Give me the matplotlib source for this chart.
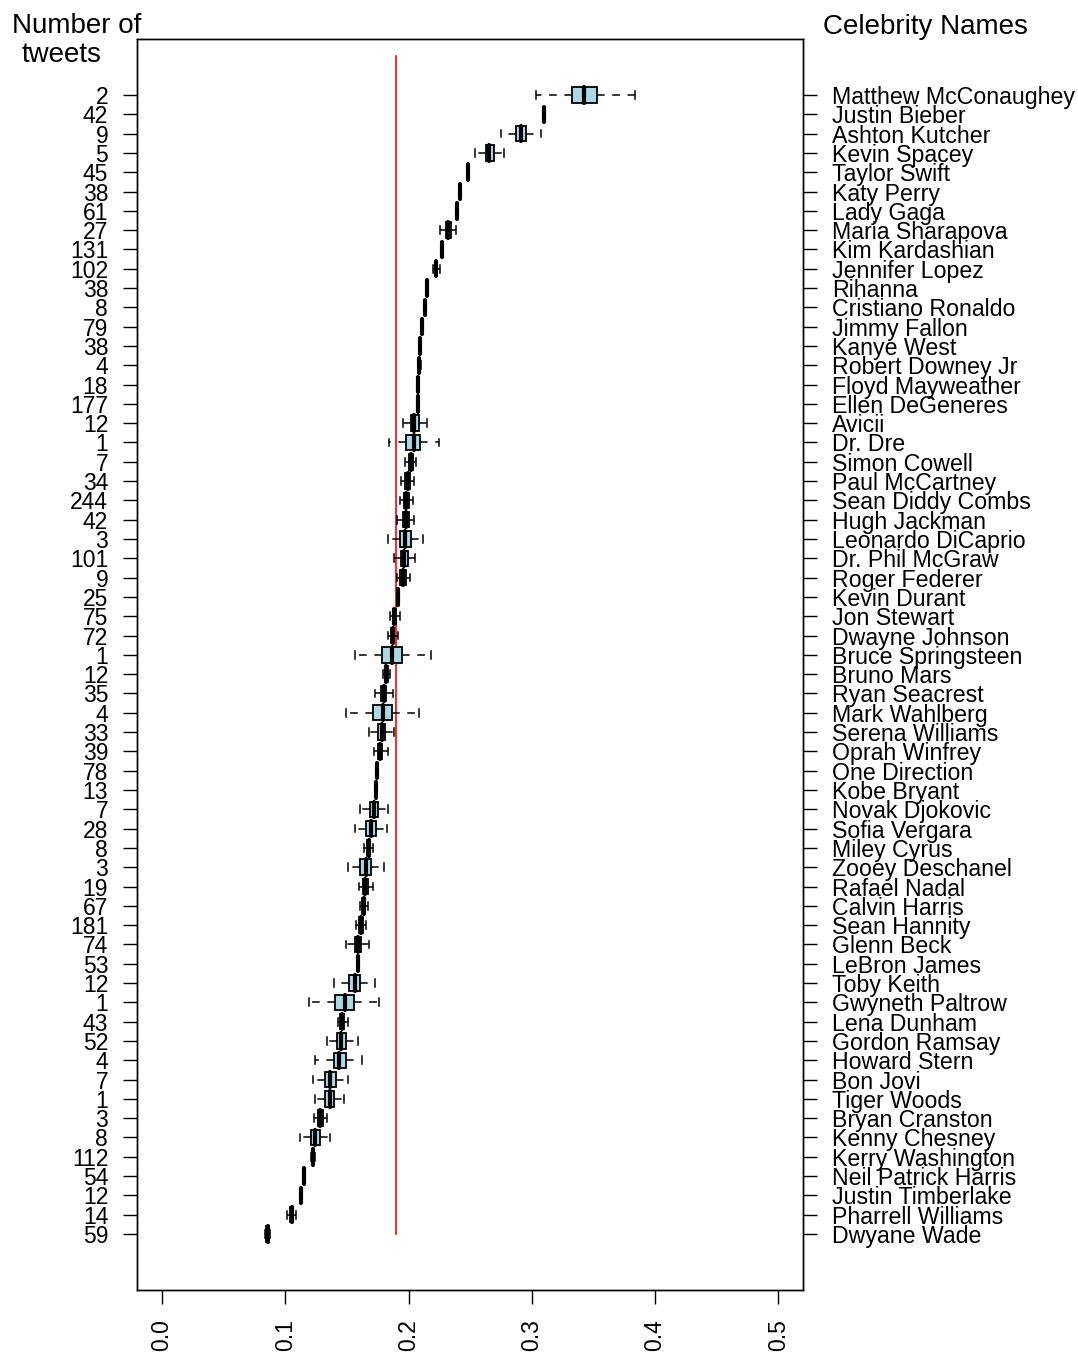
import matplotlib
matplotlib.use("Agg")
import matplotlib.pyplot as plt

plt.rcParams['font.family'] = ['Liberation Sans', 'DejaVu Sans']

names = ["Matthew McConaughey", "Justin Bieber", "Ashton Kutcher", "Kevin Spacey", "Taylor Swift",
         "Katy Perry", "Lady Gaga", "Maria Sharapova", "Kim Kardashian", "Jennifer Lopez",
         "Rihanna", "Cristiano Ronaldo", "Jimmy Fallon", "Kanye West", "Robert Downey Jr",
         "Floyd Mayweather", "Ellen DeGeneres", "Avicii", "Dr. Dre", "Simon Cowell",
         "Paul McCartney", "Sean Diddy Combs", "Hugh Jackman", "Leonardo DiCaprio", "Dr. Phil McGraw",
         "Roger Federer", "Kevin Durant", "Jon Stewart", "Dwayne Johnson", "Bruce Springsteen",
         "Bruno Mars", "Ryan Seacrest", "Mark Wahlberg", "Serena Williams", "Oprah Winfrey",
         "One Direction", "Kobe Bryant", "Novak Djokovic", "Sofia Vergara", "Miley Cyrus",
         "Zooey Deschanel", "Rafael Nadal", "Calvin Harris", "Sean Hannity", "Glenn Beck",
         "LeBron James", "Toby Keith", "Gwyneth Paltrow", "Lena Dunham", "Gordon Ramsay",
         "Howard Stern", "Bon Jovi", "Tiger Woods", "Bryan Cranston", "Kenny Chesney",
         "Kerry Washington", "Neil Patrick Harris", "Justin Timberlake", "Pharrell Williams", "Dwyane Wade"]

tweets = [2, 42, 9, 5, 45, 38, 61, 27, 131, 102,
          38, 8, 79, 38, 4, 18, 177, 12, 1, 7,
          34, 244, 42, 3, 101, 9, 25, 75, 72, 1,
          12, 35, 4, 33, 39, 78, 13, 7, 28, 8,
          3, 19, 67, 181, 74, 53, 12, 1, 43, 52,
          4, 7, 1, 3, 8, 112, 54, 12, 14, 59]

whislo = [0.3038, 0.3095, 0.2752, 0.2543, 0.2482, 0.2417, 0.2392, 0.2253, 0.2273, 0.2200,
          0.2150, 0.2133, 0.2109, 0.2093, 0.2078, 0.2072, 0.2071, 0.1956, 0.1839, 0.1975,
          0.1940, 0.1929, 0.1907, 0.1834, 0.1880, 0.1907, 0.1906, 0.1853, 0.1831, 0.1569,
          0.1794, 0.1726, 0.1496, 0.1677, 0.1718, 0.1743, 0.1728, 0.1610, 0.1569, 0.1642,
          0.1510, 0.1596, 0.1604, 0.1577, 0.1496, 0.1585, 0.1393, 0.1196, 0.1425, 0.1339,
          0.1244, 0.1226, 0.1244, 0.1236, 0.1123, 0.1205, 0.1145, 0.1124, 0.1015, 0.0836]
q1 = [0.3328, 0.3096, 0.2868, 0.2630, 0.2483, 0.2418, 0.2393, 0.2302, 0.2274, 0.2214,
      0.2152, 0.2135, 0.2111, 0.2095, 0.2084, 0.2077, 0.2073, 0.2024, 0.1983, 0.2005,
      0.1975, 0.1961, 0.1953, 0.1934, 0.1940, 0.1934, 0.1910, 0.1873, 0.1857, 0.1786,
      0.1812, 0.1778, 0.1713, 0.1753, 0.1752, 0.1744, 0.1730, 0.1691, 0.1658, 0.1662,
      0.1610, 0.1630, 0.1622, 0.1597, 0.1563, 0.1586, 0.1520, 0.1407, 0.1447, 0.1420,
      0.1393, 0.1320, 0.1325, 0.1265, 0.1209, 0.1215, 0.1147, 0.1127, 0.1037, 0.0846]
med = [0.3420, 0.3097, 0.2914, 0.2654, 0.2484, 0.2419, 0.2394, 0.2324, 0.2275, 0.2224,
       0.2154, 0.2137, 0.2113, 0.2097, 0.2088, 0.2080, 0.2075, 0.2048, 0.2042, 0.2021,
       0.1994, 0.1981, 0.1981, 0.1975, 0.1967, 0.1956, 0.1916, 0.1886, 0.1872, 0.1867,
       0.1821, 0.1799, 0.1794, 0.1788, 0.1772, 0.1745, 0.1734, 0.1723, 0.1696, 0.1677,
       0.1656, 0.1650, 0.1636, 0.1615, 0.1588, 0.1588, 0.1563, 0.1482, 0.1464, 0.1453,
       0.1439, 0.1360, 0.1360, 0.1285, 0.1244, 0.1222, 0.1149, 0.1131, 0.1052, 0.0857]
q3 = [0.3531, 0.3098, 0.2957, 0.2692, 0.2485, 0.2420, 0.2395, 0.2346, 0.2276, 0.2235,
      0.2156, 0.2139, 0.2115, 0.2099, 0.2092, 0.2083, 0.2077, 0.2083, 0.2097, 0.2037,
      0.2015, 0.2002, 0.2007, 0.2021, 0.1997, 0.1981, 0.1922, 0.1898, 0.1886, 0.1948,
      0.1833, 0.1821, 0.1867, 0.1812, 0.1788, 0.1746, 0.1738, 0.1753, 0.1737, 0.1691,
      0.1696, 0.1670, 0.1650, 0.1630, 0.1615, 0.1590, 0.1604, 0.1555, 0.1480, 0.1494,
      0.1494, 0.1409, 0.1396, 0.1305, 0.1285, 0.1229, 0.1151, 0.1135, 0.1066, 0.0868]
whishi = [0.3834, 0.3099, 0.3076, 0.2773, 0.2486, 0.2421, 0.2396, 0.2389, 0.2277, 0.2259,
          0.2158, 0.2141, 0.2117, 0.2101, 0.2098, 0.2088, 0.2079, 0.2151, 0.2245, 0.2064,
          0.2048, 0.2034, 0.2042, 0.2119, 0.2050, 0.2015, 0.1926, 0.1935, 0.1912, 0.2186,
          0.1853, 0.1875, 0.2086, 0.1886, 0.1831, 0.1747, 0.1740, 0.1834, 0.1826, 0.1713,
          0.1799, 0.1713, 0.1669, 0.1656, 0.1683, 0.1591, 0.1731, 0.1758, 0.1506, 0.1588,
          0.1623, 0.1506, 0.1480, 0.1339, 0.1360, 0.1240, 0.1153, 0.1138, 0.1090, 0.0878]

ref_value = 0.19
xticks = [0.0, 0.1, 0.2, 0.3, 0.4, 0.5]

W, H = 1078, 1353
fig = plt.figure(figsize=(W / 100, H / 100), dpi=100)
ax = fig.add_axes([137.3 / W, 1 - 1290 / H, (803 - 137.3) / W, (1290 - 39) / H])

n = len(names)
positions = [n - i for i in range(n)]
stats = []
for i in range(n):
    stats.append(dict(med=med[i], q1=q1[i], q3=q3[i], whislo=whislo[i], whishi=whishi[i], fliers=[]))

ax.bxp(stats, positions=positions, widths=0.8, orientation='horizontal', patch_artist=True,
       showfliers=False, capwidths=0.4,
       boxprops=dict(facecolor='#ADD8E6', edgecolor='black', linewidth=1.3),
       medianprops=dict(color='black', linewidth=3.0, solid_capstyle='round'),
       whiskerprops=dict(color='black', linewidth=1.1, linestyle=(0, (5, 5))),
       capprops=dict(color='black', linewidth=1.1))

ax.plot([ref_value, ref_value], [1, 62], color='red', linewidth=1.2, zorder=1)

ax.set_xlim(-0.02, 0.52)
ax.set_ylim(-1.9, 62.9)
ax.set_xticks(xticks)
ax.set_xticklabels([f"{t:.1f}" for t in xticks], rotation=90, fontsize=16.5)
ax.set_yticks(positions)
ax.set_yticklabels([str(t) for t in tweets], fontsize=16.5)
ax.tick_params(axis='both', direction='out', length=10, width=1.0, pad=11, color='black')
for s in ax.spines.values():
    s.set_linewidth(1.0)

ax2 = ax.twinx()
ax2.set_ylim(ax.get_ylim())
ax2.set_yticks(positions)
ax2.set_yticklabels(names, fontsize=16.7)
ax2.tick_params(axis='y', direction='out', length=10, width=1.0, pad=11, color='black')
for s in ax2.spines.values():
    s.set_linewidth(1.0)

fig.text(76.7 / W, 1 - 33.3 / H, "Number of", ha='center', va='baseline', fontsize=20)
fig.text(62 / W, 1 - 61.7 / H, "tweets", ha='center', va='baseline', fontsize=20)
fig.text(925.5 / W, 1 - 34.3 / H, "Celebrity Names", ha='center', va='baseline', fontsize=20)

fig.savefig("out.png", dpi=100)
